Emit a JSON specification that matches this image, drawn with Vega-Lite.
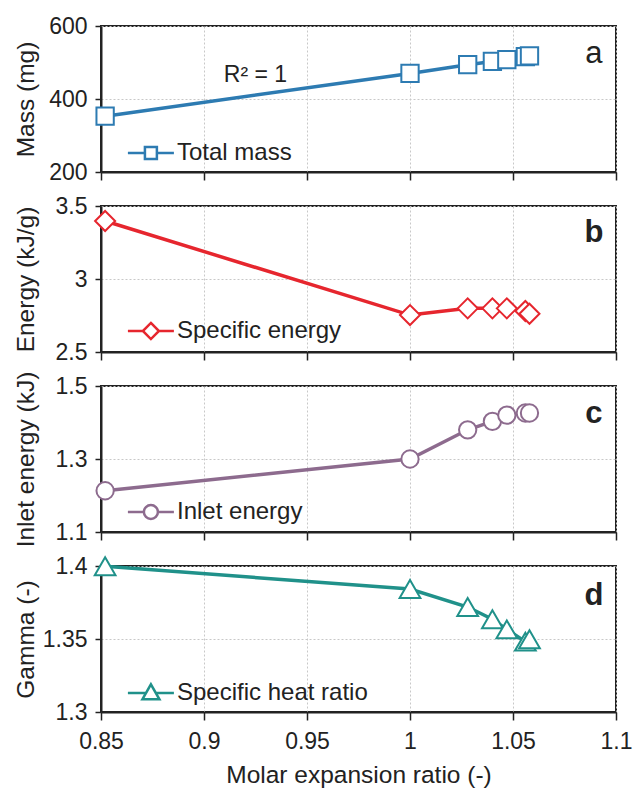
{
  "$schema": "https://vega.github.io/schema/vega-lite/v6.json",
  "background": "white",
  "padding": {"left": 12, "top": 14, "right": 10, "bottom": 5},
  "spacing": 34,
  "bounds": "flush",
  "resolve": {"scale": {"color": "independent", "stroke": "independent"}, "legend": {"color": "independent", "stroke": "independent"}},
  "datasets": {
    "mass": [
      {"ratio": 0.852, "value": 353, "series": "Total mass"},
      {"ratio": 1.0, "value": 470, "series": "Total mass"},
      {"ratio": 1.028, "value": 494, "series": "Total mass"},
      {"ratio": 1.040, "value": 503, "series": "Total mass"},
      {"ratio": 1.047, "value": 508, "series": "Total mass"},
      {"ratio": 1.056, "value": 516, "series": "Total mass"},
      {"ratio": 1.058, "value": 518, "series": "Total mass"}
    ],
    "energy": [
      {"ratio": 0.852, "value": 3.397, "series": "Specific energy"},
      {"ratio": 1.0, "value": 2.753, "series": "Specific energy"},
      {"ratio": 1.028, "value": 2.799, "series": "Specific energy"},
      {"ratio": 1.040, "value": 2.799, "series": "Specific energy"},
      {"ratio": 1.047, "value": 2.799, "series": "Specific energy"},
      {"ratio": 1.056, "value": 2.781, "series": "Specific energy"},
      {"ratio": 1.058, "value": 2.762, "series": "Specific energy"}
    ],
    "inlet": [
      {"ratio": 0.852, "value": 1.213, "series": "Inlet energy"},
      {"ratio": 1.0, "value": 1.300, "series": "Inlet energy"},
      {"ratio": 1.028, "value": 1.380, "series": "Inlet energy"},
      {"ratio": 1.040, "value": 1.403, "series": "Inlet energy"},
      {"ratio": 1.047, "value": 1.420, "series": "Inlet energy"},
      {"ratio": 1.056, "value": 1.426, "series": "Inlet energy"},
      {"ratio": 1.058, "value": 1.426, "series": "Inlet energy"}
    ],
    "gamma": [
      {"ratio": 0.852, "value": 1.3998, "series": "Specific heat ratio"},
      {"ratio": 1.0, "value": 1.3842, "series": "Specific heat ratio"},
      {"ratio": 1.028, "value": 1.3719, "series": "Specific heat ratio"},
      {"ratio": 1.040, "value": 1.3635, "series": "Specific heat ratio"},
      {"ratio": 1.047, "value": 1.3566, "series": "Specific heat ratio"},
      {"ratio": 1.056, "value": 1.3482, "series": "Specific heat ratio"},
      {"ratio": 1.058, "value": 1.3498, "series": "Specific heat ratio"}
    ],
    "notes": [
      {"panel": "a", "ratio": 1.0893, "value": 499, "text": "a"},
      {"panel": "a", "ratio": 0.925, "value": 446, "text": "R² = 1"},
      {"panel": "b", "ratio": 1.0893, "value": 3.253, "text": "b"},
      {"panel": "c", "ratio": 1.0893, "value": 1.399, "text": "c"},
      {"panel": "d", "ratio": 1.0893, "value": 1.3733, "text": "d"}
    ]
  },
  "config": {
    "font": "Liberation Sans",
    "view": {"stroke": "#222222", "strokeWidth": 2},
    "axis": {
      "domainColor": "#222222", "domainWidth": 2,
      "tickColor": "#222222", "tickWidth": 1.5,
      "gridColor": "#c8c8c8", "gridDash": [2, 2], "gridWidth": 1,
      "labelFont": "Liberation Sans", "labelFontSize": 23, "labelColor": "#222222",
      "labelFlush": false, "labelOverlap": false, "format": "~r",
      "titleFont": "Liberation Sans", "titleFontSize": 24.5, "titleFontWeight": "normal", "titleColor": "#222222"
    },
    "axisY": {"tickSize": 6, "labelPadding": 8, "titleX": -68, "titleY": 73, "titleBaseline": "alphabetic", "titleAlign": "center"},
    "axisX": {"tickSize": 8, "labelPadding": 10, "titleY": 70, "titleBaseline": "alphabetic"},
    "legend": {
      "orient": "bottom-left", "offset": 7, "padding": 0,
      "labelFont": "Liberation Sans", "labelFontSize": 24, "labelColor": "#222222", "labelLimit": 400,
      "symbolSize": 529, "symbolStrokeWidth": 2.5, "symbolFillColor": "white",
      "labelOffset": 43
    }
  },
  "vconcat": [
    {
      "width": 515, "height": 146,
      "layer": [
        {
          "data": {"name": "mass"},
          "mark": {"type": "line", "strokeWidth": 3.5},
          "encoding": {
            "x": {"field": "ratio", "type": "quantitative", "scale": {"domain": [0.85, 1.1], "nice": false, "zero": false}, "axis": {"values": [0.85, 0.9, 0.95, 1, 1.05, 1.1], "labels": false, "title": null}},
            "y": {"field": "value", "type": "quantitative", "scale": {"domain": [200, 600], "nice": false, "zero": false}, "axis": {"values": [200, 400, 600], "title": "Mass (mg)"}},
            "color": {"field": "series", "type": "nominal", "scale": {"domain": ["Total mass"], "range": ["#2d7bb2"]}, "legend": {"title": null, "symbolType": "M0.6,0H2.08M3.12,0H4.6M2.08,-0.52H3.12V0.52H2.08Z"}}
          }
        },
        {
          "data": {"name": "mass"},
          "mark": {"type": "point", "shape": "square", "filled": true, "fill": "white", "opacity": 1, "size": 300, "strokeWidth": 2},
          "encoding": {
            "x": {"field": "ratio", "type": "quantitative"},
            "y": {"field": "value", "type": "quantitative"},
            "stroke": {"field": "series", "type": "nominal", "scale": {"domain": ["Total mass"], "range": ["#2d7bb2"]}, "legend": null}
          }
        },
        {
          "data": {"name": "notes"},
          "transform": [{"filter": "datum.panel === 'a'"}],
          "mark": {"type": "text", "align": "center", "baseline": "alphabetic", "color": "#222222", "font": "Liberation Sans"},
          "encoding": {
            "x": {"field": "ratio", "type": "quantitative"},
            "y": {"field": "value", "type": "quantitative"},
            "text": {"field": "text"},
            "size": {"condition": {"test": "datum.text === 'a'", "value": 31}, "value": 23},
            "fontWeight": {"condition": {"test": "datum.text === 'a'", "value": "bold"}, "value": "normal"}
          }
        }
      ]
    },
    {
      "width": 515, "height": 146,
      "layer": [
        {
          "data": {"name": "energy"},
          "mark": {"type": "line", "strokeWidth": 3.5},
          "encoding": {
            "x": {"field": "ratio", "type": "quantitative", "scale": {"domain": [0.85, 1.1], "nice": false, "zero": false}, "axis": {"values": [0.85, 0.9, 0.95, 1, 1.05, 1.1], "labels": false, "title": null}},
            "y": {"field": "value", "type": "quantitative", "scale": {"domain": [2.5, 3.5], "nice": false, "zero": false}, "axis": {"values": [2.5, 3, 3.5], "title": "Energy (kJ/g)"}},
            "color": {"field": "series", "type": "nominal", "scale": {"domain": ["Specific energy"], "range": ["#e6262e"]}, "legend": {"title": null, "symbolType": "M0.6,0H1.9M3.3,0H4.6M2.6,-0.7L3.3,0L2.6,0.7L1.9,0Z"}}
          }
        },
        {
          "data": {"name": "energy"},
          "mark": {"type": "point", "shape": "diamond", "filled": true, "fill": "white", "opacity": 1, "size": 400, "strokeWidth": 2},
          "encoding": {
            "x": {"field": "ratio", "type": "quantitative"},
            "y": {"field": "value", "type": "quantitative"},
            "stroke": {"field": "series", "type": "nominal", "scale": {"domain": ["Specific energy"], "range": ["#e6262e"]}, "legend": null}
          }
        },
        {
          "data": {"name": "notes"},
          "transform": [{"filter": "datum.panel === 'b'"}],
          "mark": {"type": "text", "align": "center", "baseline": "alphabetic", "color": "#222222", "font": "Liberation Sans", "fontSize": 31, "fontWeight": "bold"},
          "encoding": {
            "x": {"field": "ratio", "type": "quantitative"},
            "y": {"field": "value", "type": "quantitative"},
            "text": {"field": "text"}
          }
        }
      ]
    },
    {
      "width": 515, "height": 146,
      "layer": [
        {
          "data": {"name": "inlet"},
          "mark": {"type": "line", "strokeWidth": 3.5},
          "encoding": {
            "x": {"field": "ratio", "type": "quantitative", "scale": {"domain": [0.85, 1.1], "nice": false, "zero": false}, "axis": {"values": [0.85, 0.9, 0.95, 1, 1.05, 1.1], "labels": false, "title": null}},
            "y": {"field": "value", "type": "quantitative", "scale": {"domain": [1.1, 1.5], "nice": false, "zero": false}, "axis": {"values": [1.1, 1.3, 1.5], "title": "Inlet energy (kJ)"}},
            "color": {"field": "series", "type": "nominal", "scale": {"domain": ["Inlet energy"], "range": ["#8d6b8e"]}, "legend": {"title": null, "symbolType": "M0.6,0H1.99M3.21,0H4.6M1.99,0A0.61,0.61,0,1,1,3.21,0A0.61,0.61,0,1,1,1.99,0Z"}}
          }
        },
        {
          "data": {"name": "inlet"},
          "mark": {"type": "point", "shape": "circle", "filled": true, "fill": "white", "opacity": 1, "size": 300, "strokeWidth": 2},
          "encoding": {
            "x": {"field": "ratio", "type": "quantitative"},
            "y": {"field": "value", "type": "quantitative"},
            "stroke": {"field": "series", "type": "nominal", "scale": {"domain": ["Inlet energy"], "range": ["#8d6b8e"]}, "legend": null}
          }
        },
        {
          "data": {"name": "notes"},
          "transform": [{"filter": "datum.panel === 'c'"}],
          "mark": {"type": "text", "align": "center", "baseline": "alphabetic", "color": "#222222", "font": "Liberation Sans", "fontSize": 31, "fontWeight": "bold"},
          "encoding": {
            "x": {"field": "ratio", "type": "quantitative"},
            "y": {"field": "value", "type": "quantitative"},
            "text": {"field": "text"}
          }
        }
      ]
    },
    {
      "width": 515, "height": 146,
      "layer": [
        {
          "data": {"name": "gamma"},
          "mark": {"type": "line", "strokeWidth": 3.5},
          "encoding": {
            "x": {"field": "ratio", "type": "quantitative", "scale": {"domain": [0.85, 1.1], "nice": false, "zero": false}, "axis": {"values": [0.85, 0.9, 0.95, 1, 1.05, 1.1], "title": "Molar expansion ratio (-)"}},
            "y": {"field": "value", "type": "quantitative", "scale": {"domain": [1.3, 1.4], "nice": false, "zero": false}, "axis": {"values": [1.3, 1.35, 1.4], "title": "Gamma (-)"}},
            "color": {"field": "series", "type": "nominal", "scale": {"domain": ["Specific heat ratio"], "range": ["#20918a"]}, "legend": {"title": null, "symbolType": "M0.6,0H2.17M3.03,0H4.6M1.86,0.55L2.6,-0.75L3.34,0.55Z"}}
          }
        },
        {
          "data": {"name": "gamma"},
          "mark": {"type": "point", "shape": "triangle-up", "filled": true, "fill": "white", "opacity": 1, "size": 430, "strokeWidth": 2},
          "encoding": {
            "x": {"field": "ratio", "type": "quantitative"},
            "y": {"field": "value", "type": "quantitative"},
            "stroke": {"field": "series", "type": "nominal", "scale": {"domain": ["Specific heat ratio"], "range": ["#20918a"]}, "legend": null}
          }
        },
        {
          "data": {"name": "notes"},
          "transform": [{"filter": "datum.panel === 'd'"}],
          "mark": {"type": "text", "align": "center", "baseline": "alphabetic", "color": "#222222", "font": "Liberation Sans", "fontSize": 31, "fontWeight": "bold"},
          "encoding": {
            "x": {"field": "ratio", "type": "quantitative"},
            "y": {"field": "value", "type": "quantitative"},
            "text": {"field": "text"}
          }
        }
      ]
    }
  ]
}
